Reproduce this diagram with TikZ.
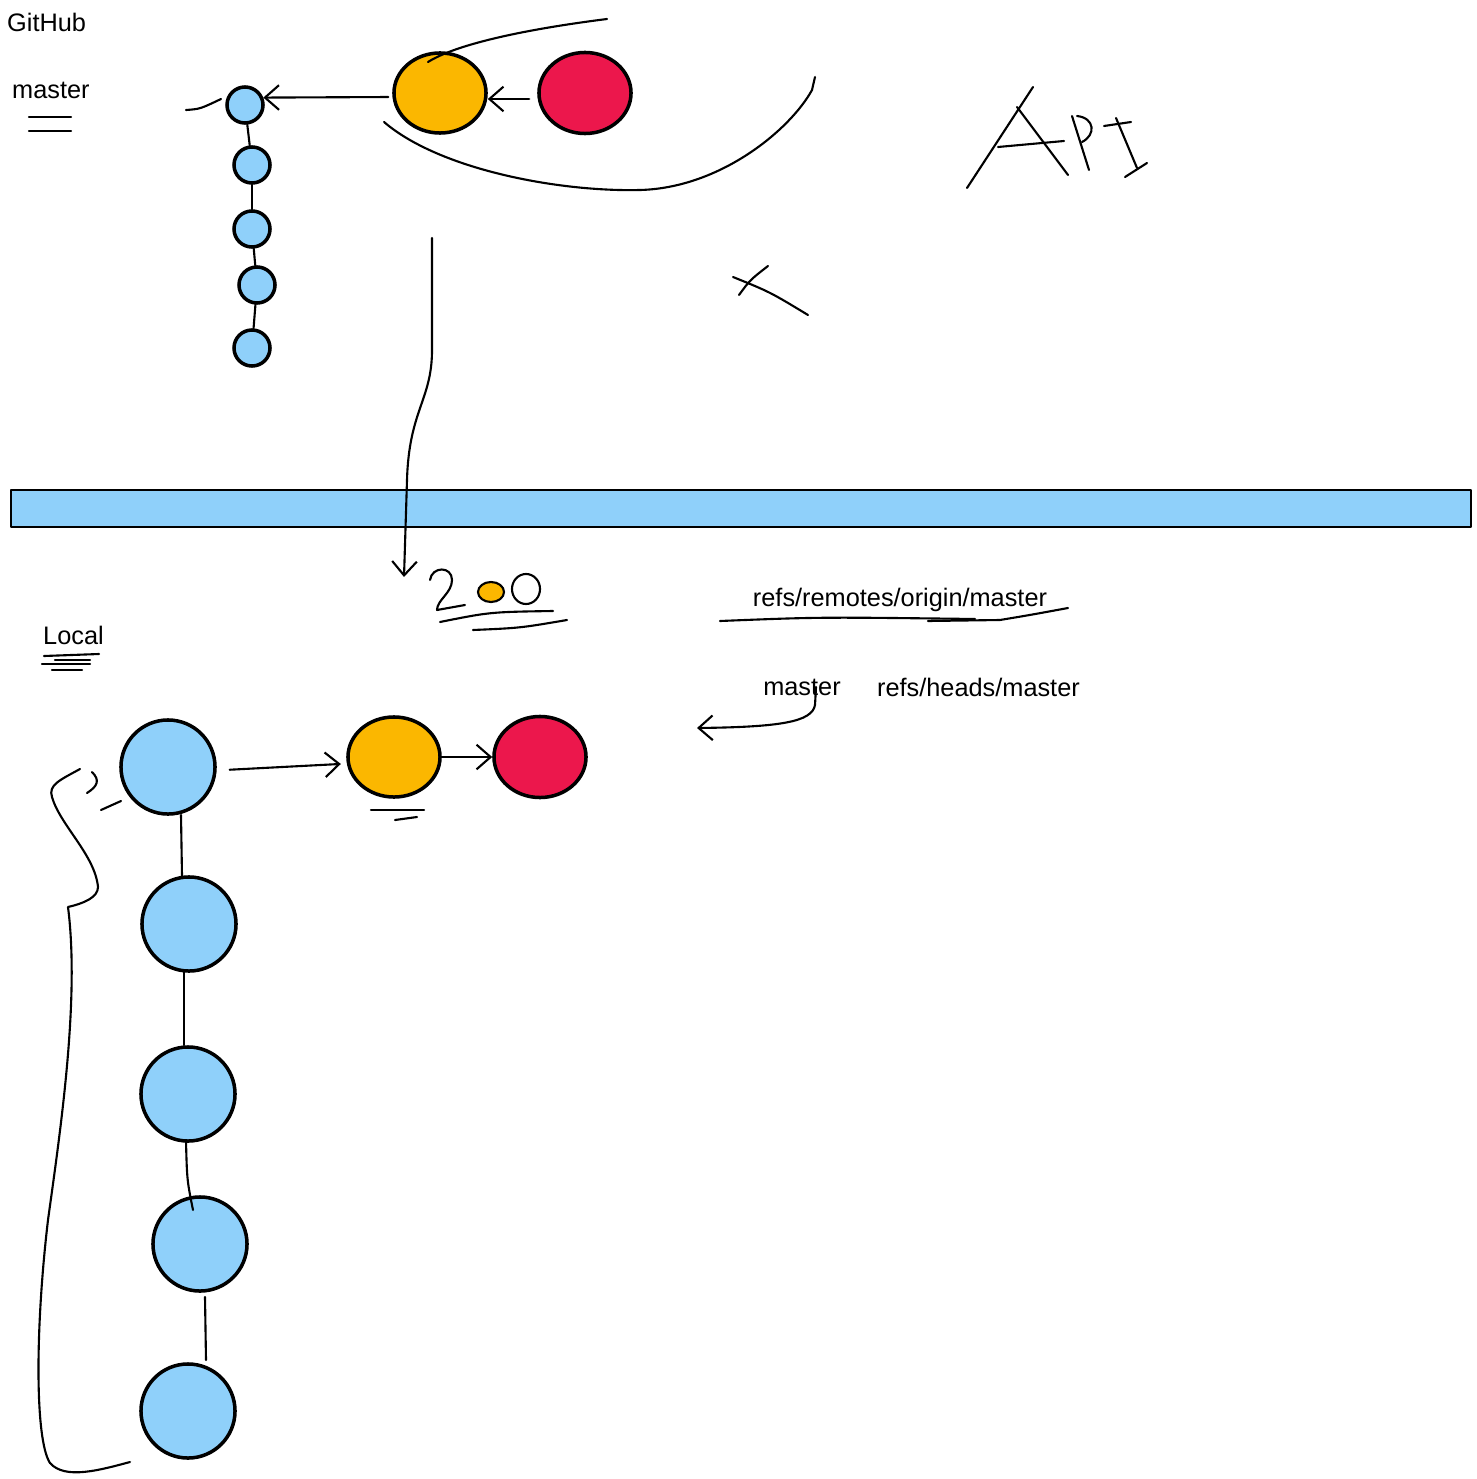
\documentclass[tikz,border=0pt]{standalone}
\usepackage{fontspec}
\setmainfont{Liberation Sans}
\usetikzlibrary{arrows.meta,shapes.geometric,positioning}
\definecolor{commitblue}{HTML}{8FD0FA}
\definecolor{headyellow}{HTML}{FBB700}
\definecolor{headred}{HTML}{EC174C}
\tikzset{
  stroke/.style={line width=0.6pt, line cap=round, line join=round},
  outline/.style={line width=1pt, line cap=round, line join=round},
  lbl/.style={font=\fontsize{7.2}{9}\selectfont, inner sep=1pt},
  smallcommit/.style={circle, draw, outline, fill=commitblue, minimum size=0.36cm, inner sep=0pt},
  bigcommit/.style={circle, draw, outline, fill=commitblue, minimum size=0.94cm, inner sep=0pt},
  yellowcommit/.style={ellipse, draw, outline, fill=headyellow, minimum width=0.92cm, minimum height=0.80cm, inner sep=0pt},
  redcommit/.style={ellipse, draw, outline, fill=headred, minimum width=0.92cm, minimum height=0.81cm, inner sep=0pt}
}
\begin{document}
\begin{tikzpicture}[x=0.01cm, y=-0.01cm, >={Straight Barb[length=4pt,width=7pt]}]
    \useasboundingbox (0,0) rectangle (1477,1479);

    % GitHub side
    \node[lbl, anchor=west] (github) at (3,22) {GitHub};
    \node[lbl, anchor=west] (ghmaster) at (8,90) {master};
    \draw[stroke] (29,117) -- (71,117) (29,131) -- (71,131);

    % Remote commits
    \node[smallcommit] (r1) at (245,105) {};
    \node[smallcommit] (r2) at (252,165) {};
    \node[smallcommit] (r3) at (252,229) {};
    \node[smallcommit] (r4) at (257,285) {};
    \node[smallcommit] (r5) at (252,348) {};
    \foreach \a/\b in {r1/r2, r2/r3, r3/r4, r4/r5}
        \draw[stroke] (\a) -- (\b);
    \draw[stroke] (186,110) .. controls (200,109) .. (221,99);

    % New commits on GitHub
    \node[yellowcommit] (ghyellow) at (440,93) {};
    \node[redcommit] (ghred) at (585,93) {};
    \draw[->, stroke, shorten <=0.08cm] ([yshift=-0.06cm]ghred.west) -- ([yshift=-0.06cm]ghyellow.east);
    \draw[->, stroke, shorten <=0.04cm] ([yshift=-0.04cm]ghyellow.west) -- (r1.22);

    % Loop round the new commits
    \draw[stroke] (607,19) .. controls (520,30) and (455,45) .. (428,62);
    \draw[stroke] (384,122) .. controls (440,170) and (560,192) .. (640,190)
        .. controls (720,188) and (790,130) .. (812,90) -- (815,77);

    % API
    \draw[stroke] (967,188) -- (1033,87);
    \draw[stroke] (998,147) -- (1064,141);
    \draw[stroke] (1017,107) -- (1068,175);
    \draw[stroke] (1072,116) -- (1089,170);
    \draw[stroke] (1077,116) .. controls (1095,118) and (1096,135) .. (1082,142);
    \draw[stroke] (1104,126) -- (1131,122);
    \draw[stroke] (1116,118) -- (1137,168);
    \draw[stroke] (1125,177) -- (1147,163);

    % Cross
    \draw[stroke] (733,277) .. controls (770,292) .. (808,315);
    \draw[stroke] (739,295) .. controls (750,280) .. (768,266);

    % Network band
    \draw[stroke, line width=0.7pt, fill=commitblue] (11,490) rectangle (1471,527);

    % Fetch arrow
    \coordinate (fetchstart) at (432,238);
    \coordinate (fetchend) at (404,577);
    \draw[->, stroke] (fetchstart) -- (432,350) .. controls (432,400) and (409,410) .. (407,480) -- (fetchend);

    % 200
    \draw[stroke] (430,580) .. controls (432,566) and (452,566) .. (452,580)
        .. controls (452,593) and (437,600) .. (437,610) -- (465,605);
    \draw[stroke, fill=headyellow] (491,592) ellipse [x radius=0.13cm, y radius=0.10cm];
    \draw[stroke] (526,589) ellipse [x radius=0.14cm, y radius=0.15cm];
    \draw[stroke] (440,622) .. controls (490,612) .. (553,611);
    \draw[stroke] (473,630) .. controls (520,628) .. (567,620);

    % Refs
    \node[lbl] (remoteref) at (900,600) {refs/remotes/origin/master};
    \draw[stroke] (720,621) .. controls (820,617) .. (975,619);
    \draw[stroke] (928,621) -- (1000,620) .. controls (1030,615) .. (1068,608);
    \node[lbl] (localmaster) at (802,687) {master};
    \node[lbl, right=0.28cm of localmaster] (headref) {refs/heads/master};
    \coordinate (mastertip) at (697,728);
    \draw[->, stroke] ([xshift=0.14cm]localmaster.center) -- (815,705)
        .. controls (812,722) and (780,727) .. (mastertip);

    % Local side
    \node[lbl, anchor=west] (local) at (39,635) {Local};
    \draw[stroke] (44,656) -- (99,654);
    \draw[stroke] (55,660) -- (90,660);
    \draw[stroke] (42,664) -- (90,664);
    \draw[stroke] (52,670) -- (82,670);

    % Local commits
    \node[bigcommit] (l1) at (168,767) {};
    \node[bigcommit] (l2) at (189,924) {};
    \node[bigcommit] (l3) at (188,1094) {};
    \node[bigcommit] (l4) at (200,1244) {};
    \node[bigcommit] (l5) at (188,1411) {};
    \draw[stroke] (181,815) -- (182,876);
    \draw[stroke] (184,972) -- (184,1045);
    \draw[stroke] (186,1141) .. controls (187,1180) .. (193,1210);
    \draw[stroke] (205,1297) -- (206,1360);

    \node[yellowcommit] (lyellow) at (394,757) {};
    \node[redcommit] (lred) at (540,757) {};
    \draw[->, stroke, shorten <=0.13cm, shorten >=0.06cm] (l1.-4) -- (lyellow.188);
    \draw[->, stroke] (lyellow) -- (lred);
    \draw[stroke] (371,810) -- (424,810);
    \draw[stroke] (395,820) -- (417,817);

    % Bracket round local history
    \draw[stroke] (80,769) .. controls (60,780) and (48,785) .. (52,797)
        .. controls (60,825) and (95,855) .. (98,887)
        .. controls (98,897) and (85,903) .. (68,907)
        .. controls (80,1000) and (60,1133) .. (48,1220)
        .. controls (35,1330) and (35,1440) .. (50,1463)
        .. controls (65,1480) and (100,1470) .. (130,1462);
    \draw[stroke] (92,772) .. controls (100,780) and (98,786) .. (87,793);
    \draw[stroke] (101,810) -- (121,801);
\end{tikzpicture}
\end{document}
